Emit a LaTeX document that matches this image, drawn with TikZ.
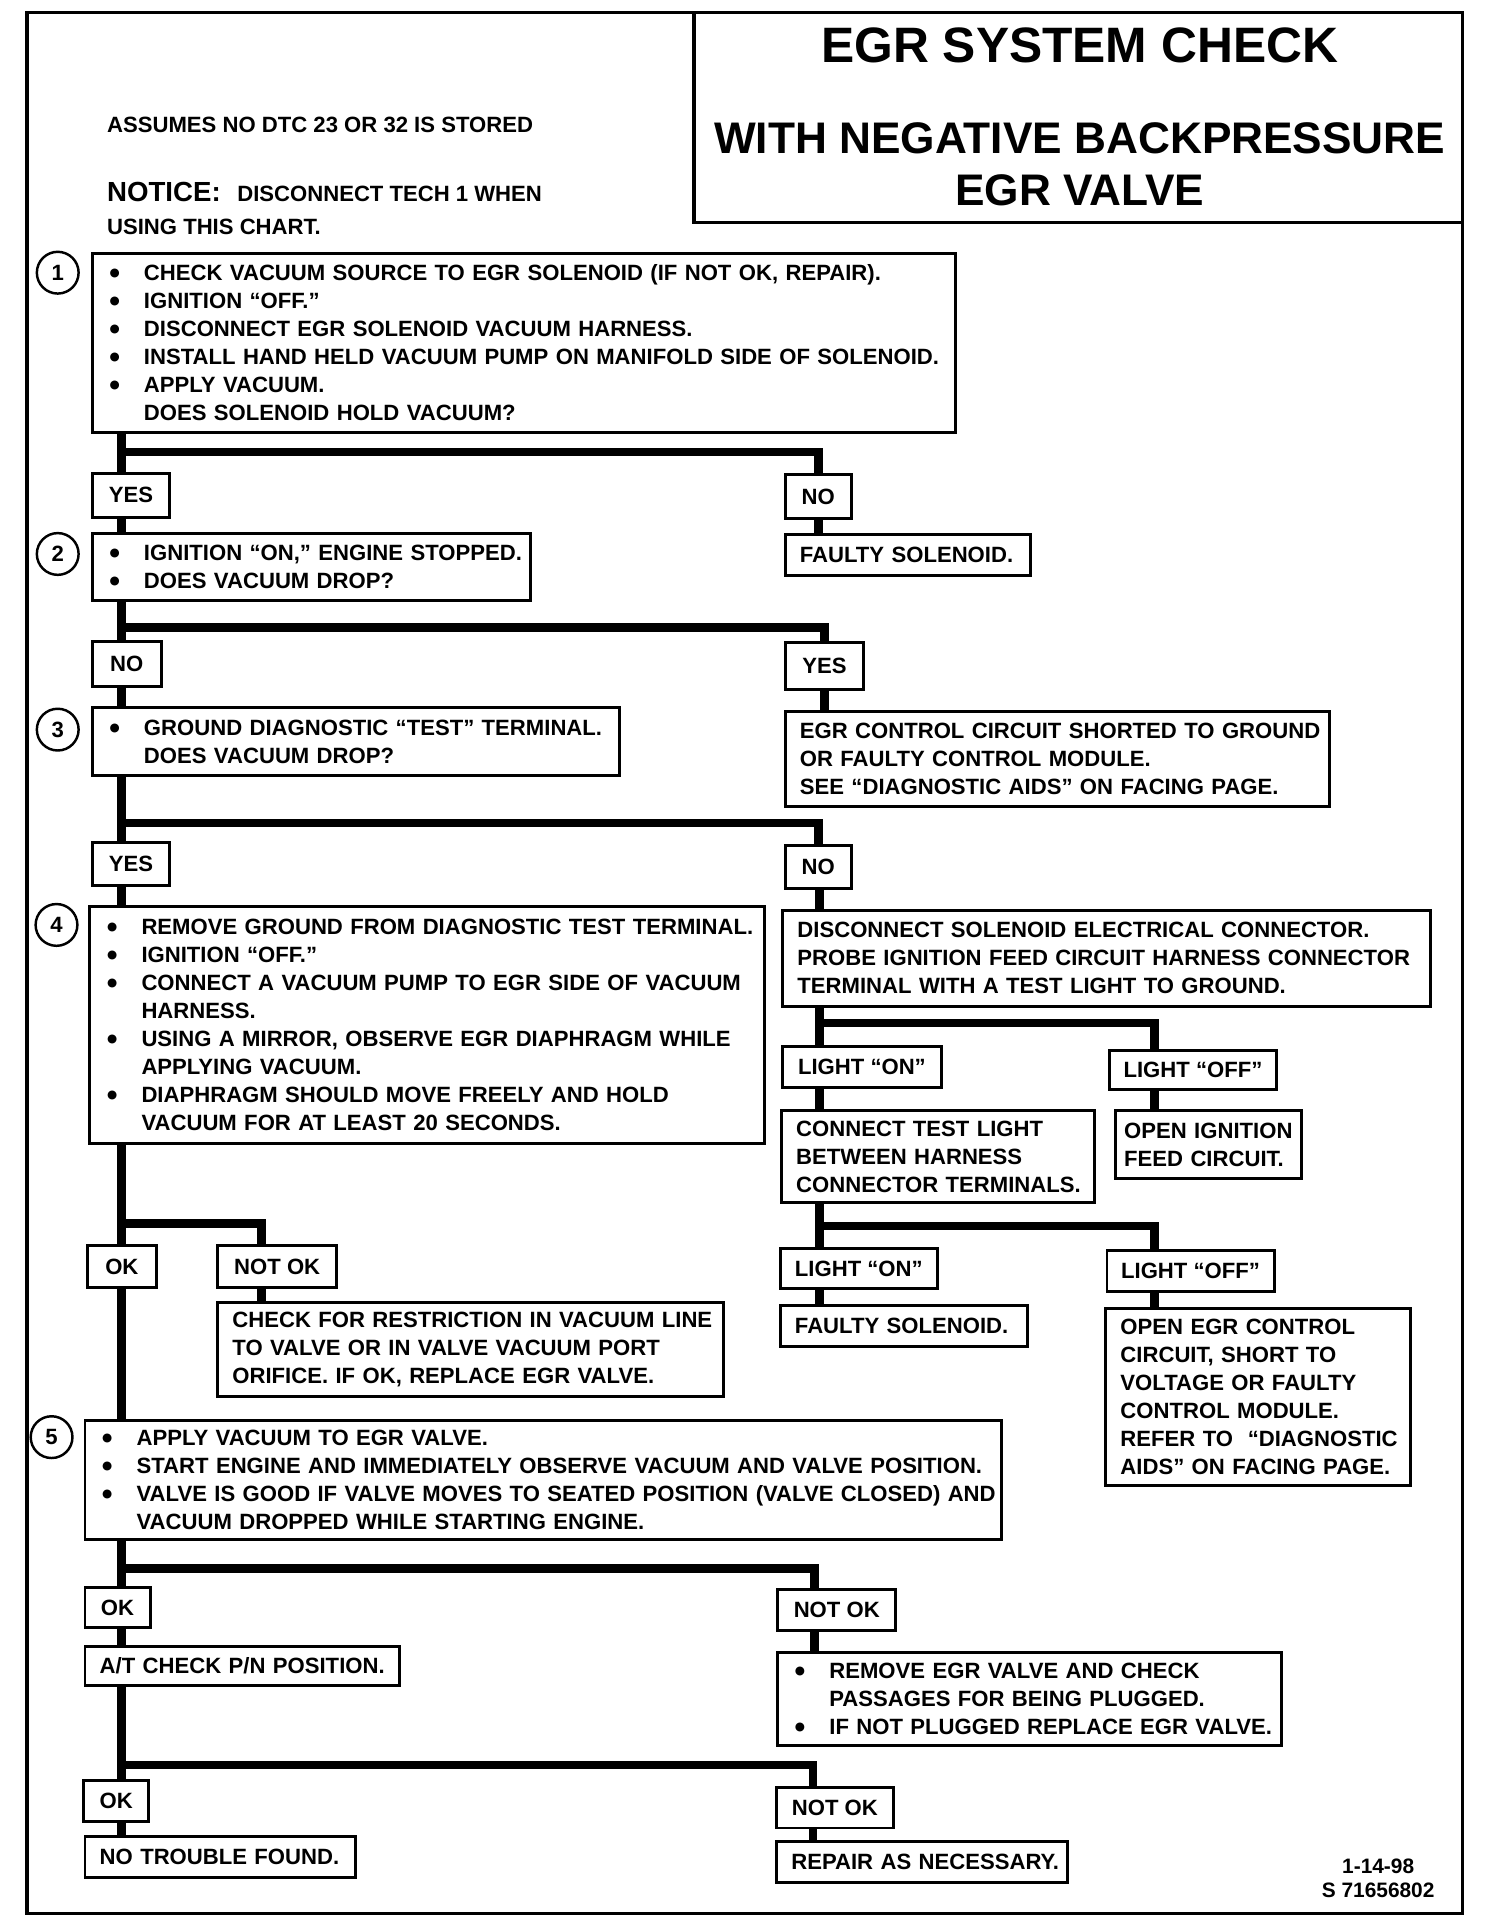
\documentclass[tikz,border=0pt]{standalone}
\usepackage{fontspec}
\setmainfont{Liberation Sans}
\newfontfamily\dotfont{DejaVu Sans}

\newcommand\chartfont{\fontsize{18}{22.8}\selectfont\bfseries}
\newcommand\noticefont{\fontsize{22.5}{27}\selectfont\bfseries}
\newcommand\titlefont{\fontsize{36}{40}\selectfont\bfseries}
\newcommand\bigtitlefont{\fontsize{40.5}{44}\selectfont\bfseries}
\newcommand\numfont{\fontsize{18}{20}\selectfont\bfseries}
\newcommand\datefont{\fontsize{17}{19.5}\selectfont\bfseries}
\newcommand\bul{\makebox[30pt][l]{\hspace{2pt}\raisebox{3.2pt}{\fontsize{9.5}{10}\dotfont\selectfont ●}}}
\newcommand\cont{\hspace*{30pt}}

\begin{document}
\begin{tikzpicture}[x=1pt,y=-1pt]
    % Estilo para las cajas de texto
    \tikzstyle{box_style} = [draw, line width=2.4pt, fill=white, anchor=north west, inner xsep=4pt, inner ysep=0pt, align=left, font=\chartfont, execute at begin node={\leftskip=8pt\rightskip=-20pt plus 1fil\relax}]

    % Estilo para las etiquetas (YES, NO, OK...)
    \tikzstyle{tag_style} = [draw, line width=2.4pt, fill=white, anchor=north west, inner sep=0pt, font=\chartfont]

    % Estilo para las lineas gruesas
    \tikzstyle{bar_style} = [line width=7pt]

    % Estilo para los numeros de paso
    \tikzstyle{num_style} = [circle, draw, line width=2pt, minimum size=34pt, inner sep=0pt, font=\numfont]

    \useasboundingbox (0,0) rectangle (1211,1568);

    % Marco y titulo
    \draw[line width=2.5pt] (22,10) rectangle (1191,1558);
    \draw[line width=2.5pt] (565,10) rectangle (1191,181);
    \node[anchor=base, inner sep=0pt, font=\bigtitlefont] (title1) at (879,51) {EGR SYSTEM CHECK};
    \node[anchor=base, inner sep=0pt, font=\titlefont] (title2) at (879,125) {WITH NEGATIVE BACKPRESSURE};
    \node[anchor=base, inner sep=0pt, font=\titlefont] (title3) at (879,167) {EGR VALVE};

    \node[anchor=base west, inner sep=0pt, font=\chartfont] (assume) at (87,108) {ASSUMES NO DTC 23 OR 32 IS STORED};
    \node[anchor=base west, inner sep=0pt, font=\noticefont] (notice) at (87,164) {NOTICE:};
    \node[anchor=base west, inner sep=0pt, font=\chartfont] (tech) at (193,164) {DISCONNECT TECH 1 WHEN};
    \node[anchor=base west, inner sep=0pt, font=\chartfont] (using) at (87,191) {USING THIS CHART.};

    % Pasos numerados
    \node[num_style] (n1) at (47,222) {1};
    \node[num_style] (n2) at (47,451) {2};
    \node[num_style] (n3) at (47,594) {3};
    \node[num_style] (n4) at (46,753) {4};
    \node[num_style] (n5) at (42,1170) {5};

    \node[box_style, text width=695pt, minimum height=146pt] (step1) at (74,205) {\bul CHECK VACUUM SOURCE TO EGR SOLENOID (IF NOT OK, REPAIR).\\ \bul IGNITION “OFF.”\\ \bul DISCONNECT EGR SOLENOID VACUUM HARNESS.\\ \bul INSTALL HAND HELD VACUUM PUMP ON MANIFOLD SIDE OF SOLENOID.\\ \bul APPLY VACUUM.\\ \cont DOES SOLENOID HOLD VACUUM?};
    \node[tag_style, minimum width=63pt, minimum height=36pt] (yes1) at (74,384) {YES};
    \node[tag_style, minimum width=54pt, minimum height=36pt] (no1) at (638,385) {NO};
    \node[box_style, text width=192pt, minimum height=33pt] (fault1) at (638,434) {FAULTY SOLENOID.};

    \node[box_style, text width=349pt, minimum height=55pt] (step2) at (74,433) {\bul IGNITION “ON,” ENGINE STOPPED.\\ \bul DOES VACUUM DROP?};
    \node[tag_style, minimum width=56pt, minimum height=37pt] (no2) at (74,521) {NO};
    \node[tag_style, minimum width=64pt, minimum height=38pt] (yes2) at (638,522) {YES};

    \node[box_style, text width=421pt, minimum height=55pt] (step3) at (74,575) {\bul GROUND DIAGNOSTIC “TEST” TERMINAL.\\ \cont DOES VACUUM DROP?};
    \node[box_style, text width=435pt, minimum height=77pt] (short) at (638,578) {EGR CONTROL CIRCUIT SHORTED TO GROUND\\ OR FAULTY CONTROL MODULE.\\ SEE “DIAGNOSTIC AIDS” ON FACING PAGE.};
    \node[tag_style, minimum width=63pt, minimum height=35pt] (yes3) at (74,685) {YES};
    \node[tag_style, minimum width=54pt, minimum height=35pt] (no3) at (638,687) {NO};

    \node[box_style, text width=541pt, minimum height=193pt] (step4) at (72,737) {\bul REMOVE GROUND FROM DIAGNOSTIC TEST TERMINAL.\\ \bul IGNITION “OFF.”\\ \bul CONNECT A VACUUM PUMP TO EGR SIDE OF VACUUM\\ \cont HARNESS.\\ \bul USING A MIRROR, OBSERVE EGR DIAPHRAGM WHILE\\ \cont APPLYING VACUUM.\\ \bul DIAPHRAGM SHOULD MOVE FREELY AND HOLD\\ \cont VACUUM FOR AT LEAST 20 SECONDS.};

    % Rama derecha del paso 3
    \node[box_style, text width=519pt, minimum height=78pt] (disc) at (636,740) {DISCONNECT SOLENOID ELECTRICAL CONNECTOR.\\ PROBE IGNITION FEED CIRCUIT HARNESS CONNECTOR\\ TERMINAL WITH A TEST LIGHT TO GROUND.};
    \node[tag_style, minimum width=129pt, minimum height=33pt] (lon1) at (636,851) {LIGHT “ON”};
    \node[tag_style, minimum width=136pt, minimum height=32pt] (loff1) at (902,854) {LIGHT “OFF”};
    \node[box_style, text width=247pt, minimum height=75pt] (ctest) at (635,903) {CONNECT TEST LIGHT\\ BETWEEN HARNESS\\ CONNECTOR TERMINALS.};
    \node[box_style, text width=143pt, minimum height=55pt, execute at begin node={\leftskip=3pt\rightskip=-20pt plus 1fil\relax}] (openign) at (907,903) {OPEN IGNITION\\ FEED CIRCUIT.};
    \node[tag_style, minimum width=128pt, minimum height=33pt] (lon2) at (634,1015) {LIGHT “ON”};
    \node[tag_style, minimum width=136pt, minimum height=33pt] (loff2) at (900,1017) {LIGHT “OFF”};
    \node[box_style, text width=193pt, minimum height=33pt] (fault2) at (634,1062) {FAULTY SOLENOID.};
    \node[box_style, text width=240pt, minimum height=144pt] (openegr) at (899,1064) {OPEN EGR CONTROL\\ CIRCUIT, SHORT TO\\ VOLTAGE OR FAULTY\\ CONTROL MODULE.\\ REFER TO \ “DIAGNOSTIC\\ AIDS” ON FACING PAGE.};

    % Resultados del paso 4
    \node[tag_style, minimum width=56pt, minimum height=34pt] (ok4) at (70,1013) {OK};
    \node[tag_style, minimum width=97pt, minimum height=34pt] (notok4) at (176,1013) {NOT OK};
    \node[box_style, text width=404pt, minimum height=77pt] (restr) at (176,1059) {CHECK FOR RESTRICTION IN VACUUM LINE\\ TO VALVE OR IN VALVE VACUUM PORT\\ ORIFICE. IF OK, REPLACE EGR VALVE.};

    \node[box_style, text width=738pt, minimum height=97pt] (step5) at (68,1155) {\bul APPLY VACUUM TO EGR VALVE.\\ \bul START ENGINE AND IMMEDIATELY OBSERVE VACUUM AND VALVE POSITION.\\ \bul VALVE IS GOOD IF VALVE MOVES TO SEATED POSITION (VALVE CLOSED) AND\\ \cont VACUUM DROPPED WHILE STARTING ENGINE.};

    % Resultados del paso 5
    \node[tag_style, minimum width=53pt, minimum height=33pt] (ok5) at (68,1291) {OK};
    \node[tag_style, minimum width=96pt, minimum height=33pt] (notok5) at (632,1293) {NOT OK};
    \node[box_style, text width=248pt, minimum height=32pt] (atcheck) at (68,1339) {A/T CHECK P/N POSITION.};
    \node[box_style, text width=402pt, minimum height=76pt] (remove) at (632,1344) {\bul REMOVE EGR VALVE AND CHECK\\ \cont PASSAGES FOR BEING PLUGGED.\\ \bul IF NOT PLUGGED REPLACE EGR VALVE.};
    \node[tag_style, minimum width=53pt, minimum height=34pt] (ok6) at (67,1448) {OK};
    \node[tag_style, minimum width=95pt, minimum height=33pt] (notok6) at (631,1454) {NOT OK};
    \node[box_style, text width=212pt, minimum height=33pt] (ntf) at (68,1494) {NO TROUBLE FOUND.};
    \node[box_style, text width=229pt, minimum height=33pt] (repair) at (631,1498) {REPAIR AS NECESSARY.};

    \node[align=center, inner sep=0pt, font=\datefont] (date) at (1122,1529) {1-14-98\\S 71656802};

    % Puntos de bifurcacion
    \coordinate (t1) at (99,368);
    \coordinate (t2) at (99,511);
    \coordinate (t3) at (99,670);
    \coordinate (t4) at (99,996);
    \coordinate (t5) at (99,1277);
    \coordinate (t6) at (99,1437);
    \coordinate (r1) at (667,833);
    \coordinate (r2) at (667,998);
    \coordinate (d1) at (940,833);
    \coordinate (d2) at (940,998);
    \coordinate (d4) at (213,996);
    \coordinate (d5) at (663,1277);
    \coordinate (d6) at (662,1437);

    % Conexiones
    \draw[bar_style] (step1.south -| t1) -- (yes1.north -| t1);
    \draw[bar_style] (t1) -| (no1.north);
    \draw[bar_style] (yes1.south -| t1) -- (step2.north -| t1);
    \draw[bar_style] (no1.south) -- (no1.south |- fault1.north);

    \draw[bar_style] (step2.south -| t2) -- (no2.north -| t2);
    \draw[bar_style] (t2) -| (yes2.north);
    \draw[bar_style] (no2.south -| t2) -- (step3.north -| t2);
    \draw[bar_style] (yes2.south) -- (yes2.south |- short.north);

    \draw[bar_style] (step3.south -| t3) -- (yes3.north -| t3);
    \draw[bar_style] (t3) -| (no3.north);
    \draw[bar_style] (yes3.south -| t3) -- (step4.north -| t3);
    \draw[bar_style] (no3.south -| r1) -- (disc.north -| r1);

    \draw[bar_style] (disc.south -| r1) -- (lon1.north -| r1);
    \draw[bar_style] (r1) -- (d1) -- (loff1.north -| d1);
    \draw[bar_style] (lon1.south -| r1) -- (ctest.north -| r1);
    \draw[bar_style] (loff1.south -| d1) -- (openign.north -| d1);
    \draw[bar_style] (ctest.south -| r2) -- (lon2.north -| r2);
    \draw[bar_style] (r2) -- (d2) -- (loff2.north -| d2);
    \draw[bar_style] (lon2.south -| r2) -- (fault2.north -| r2);
    \draw[bar_style] (loff2.south -| d2) -- (openegr.north -| d2);

    \draw[bar_style] (step4.south -| t4) -- (ok4.north -| t4);
    \draw[bar_style] (t4) -- (d4) -- (notok4.north -| d4);
    \draw[bar_style] (ok4.south -| t4) -- (step5.north -| t4);
    \draw[bar_style] (notok4.south -| d4) -- (restr.north -| d4);

    \draw[bar_style] (step5.south -| t5) -- (ok5.north -| t5);
    \draw[bar_style] (t5) -- (d5) -- (notok5.north -| d5);
    \draw[bar_style] (ok5.south -| t5) -- (atcheck.north -| t5);
    \draw[bar_style] (notok5.south -| d5) -- (remove.north -| d5);
    \draw[bar_style] (atcheck.south -| t6) -- (ok6.north -| t6);
    \draw[bar_style] (t6) -- (d6) -- (notok6.north -| d6);
    \draw[bar_style] (ok6.south -| t6) -- (ntf.north -| t6);
    \draw[bar_style] (notok6.south -| d6) -- (repair.north -| d6);

\end{tikzpicture}
\end{document}
